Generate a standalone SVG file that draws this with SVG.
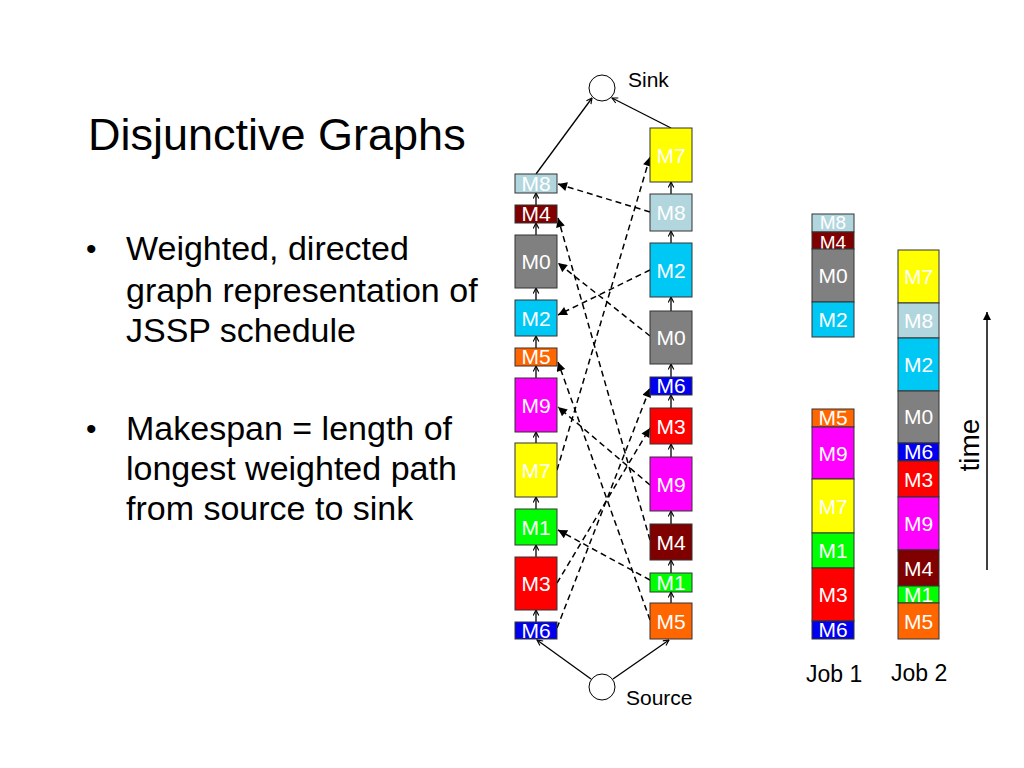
<svg xmlns="http://www.w3.org/2000/svg" width="1024" height="768" viewBox="0 0 1024 768">
<style>
text{font-family:"Liberation Sans",Arial,sans-serif}
.t{fill:#000}
.lbl{fill:#fff;font-size:21px;text-anchor:middle}
.sm{font-size:19px}
.box{stroke:#333;stroke-width:1}
.m0{fill:#808080}.m1{fill:#00ff00}.m2{fill:#00c8f5}.m3{fill:#ff0000}.m4{fill:#800000}
.m5{fill:#ff6600}.m6{fill:#0000ee}.m7{fill:#ffff00}.m8{fill:#b2d6de}.m9{fill:#ff00ff}
.sol{stroke:#000;stroke-width:1.3;fill:none;marker-end:url(#open)}
.dsh{stroke:#000;stroke-width:1.5;fill:none;stroke-dasharray:6 4;marker-end:url(#fill)}
</style>
<defs>
<marker id="open" viewBox="0 0 10 10" refX="9" refY="5" markerWidth="7" markerHeight="7" markerUnits="userSpaceOnUse" orient="auto">
<path d="M1,1 L9,5 L1,9" fill="none" stroke="#000" stroke-width="1.6"/>
</marker>
<marker id="fill" viewBox="0 0 10 10" refX="10" refY="5" markerWidth="10" markerHeight="9" markerUnits="userSpaceOnUse" orient="auto">
<path d="M0,0 L10,5 L0,10 z" fill="#000"/>
</marker>
<marker id="tarr" viewBox="0 0 10 10" refX="10" refY="5" markerWidth="10" markerHeight="8" markerUnits="userSpaceOnUse" orient="auto">
<path d="M0,0 L10,5 L0,10 z" fill="#000"/>
</marker>
</defs>
<rect width="1024" height="768" fill="#fff"/>

<g id="title">
<text x="88" y="150" font-size="45" class="t">Disjunctive Graphs</text>
</g>
<g id="bullets" font-size="34" class="t">
<text x="86" y="259" font-size="30">•</text>
<text x="126" y="260">Weighted, directed</text>
<text x="126" y="302">graph representation of</text>
<text x="126" y="342">JSSP schedule</text>
<text x="86" y="439" font-size="30">•</text>
<text x="126" y="440">Makespan = length of</text>
<text x="126" y="480">longest weighted path</text>
<text x="126" y="520">from source to sink</text>
</g>

<g id="connectors">
<line class="sol" x1="536" y1="174" x2="592" y2="98"/>
<line class="sol" x1="671" y1="128" x2="612" y2="98"/>
<line class="sol" x1="591" y1="679" x2="537" y2="640"/>
<line class="sol" x1="613" y1="679" x2="669" y2="640"/>
<line class="sol" x1="536" y1="622" x2="536" y2="610"/>
<line class="sol" x1="536" y1="557" x2="536" y2="545"/>
<line class="sol" x1="536" y1="509" x2="536" y2="497"/>
<line class="sol" x1="536" y1="443" x2="536" y2="432"/>
<line class="sol" x1="536" y1="378" x2="536" y2="366"/>
<line class="sol" x1="536" y1="348" x2="536" y2="336"/>
<line class="sol" x1="536" y1="300" x2="536" y2="288"/>
<line class="sol" x1="536" y1="235" x2="536" y2="223"/>
<line class="sol" x1="536" y1="205" x2="536" y2="193"/>
<line class="sol" x1="671" y1="603" x2="671" y2="592"/>
<line class="sol" x1="671" y1="573" x2="671" y2="560"/>
<line class="sol" x1="671" y1="524" x2="671" y2="511"/>
<line class="sol" x1="671" y1="457" x2="671" y2="444"/>
<line class="sol" x1="671" y1="408" x2="671" y2="395"/>
<line class="sol" x1="671" y1="377" x2="671" y2="364"/>
<line class="sol" x1="671" y1="311" x2="671" y2="297"/>
<line class="sol" x1="671" y1="243" x2="671" y2="231"/>
<line class="sol" x1="671" y1="194" x2="671" y2="182"/>
<line class="dsh" x1="650" y1="212" x2="558" y2="184"/>
<line class="dsh" x1="557" y1="470" x2="650" y2="157"/>
<line class="dsh" x1="650" y1="540" x2="558" y2="218"/>
<line class="dsh" x1="650" y1="336" x2="558" y2="263"/>
<line class="dsh" x1="650" y1="270" x2="558" y2="315"/>
<line class="dsh" x1="650" y1="620" x2="558" y2="362"/>
<line class="dsh" x1="650" y1="485" x2="558" y2="407"/>
<line class="dsh" x1="557" y1="628" x2="650" y2="388"/>
<line class="dsh" x1="557" y1="583" x2="650" y2="428"/>
<line class="dsh" x1="650" y1="580" x2="558" y2="530"/>
</g>

<g id="sink">
<circle cx="602" cy="88" r="13" fill="#fff" stroke="#000" stroke-width="1"/>
<text x="628" y="87" font-size="21" class="t">Sink</text>
</g>
<g id="source">
<circle cx="602" cy="687" r="13" fill="#fff" stroke="#000" stroke-width="1"/>
<text x="626" y="705" font-size="21" class="t">Source</text>
</g>

<g id="j1-M8"><rect class="box m8" x="515" y="174" width="42" height="19"/><text class="lbl" x="536" y="191">M8</text></g>
<g id="j1-M4"><rect class="box m4" x="515" y="205" width="42" height="18"/><text class="lbl" x="536" y="221">M4</text></g>
<g id="j1-M0"><rect class="box m0" x="515" y="235" width="42" height="53"/><text class="lbl" x="536" y="269">M0</text></g>
<g id="j1-M2"><rect class="box m2" x="515" y="300" width="42" height="36"/><text class="lbl" x="536" y="326">M2</text></g>
<g id="j1-M5"><rect class="box m5" x="515" y="348" width="42" height="18"/><text class="lbl" x="536" y="364">M5</text></g>
<g id="j1-M9"><rect class="box m9" x="515" y="378" width="42" height="54"/><text class="lbl" x="536" y="413">M9</text></g>
<g id="j1-M7"><rect class="box m7" x="515" y="443" width="42" height="54"/><text class="lbl" x="536" y="478">M7</text></g>
<g id="j1-M1"><rect class="box m1" x="515" y="509" width="42" height="36"/><text class="lbl" x="536" y="535">M1</text></g>
<g id="j1-M3"><rect class="box m3" x="515" y="557" width="42" height="53"/><text class="lbl" x="536" y="591">M3</text></g>
<g id="j1-M6"><rect class="box m6" x="515" y="622" width="42" height="17"/><text class="lbl" x="536" y="638">M6</text></g>

<g id="j2-M7"><rect class="box m7" x="650" y="128" width="42" height="54"/><text class="lbl" x="671" y="163">M7</text></g>
<g id="j2-M8"><rect class="box m8" x="650" y="194" width="42" height="37"/><text class="lbl" x="671" y="220">M8</text></g>
<g id="j2-M2"><rect class="box m2" x="650" y="243" width="42" height="54"/><text class="lbl" x="671" y="278">M2</text></g>
<g id="j2-M0"><rect class="box m0" x="650" y="311" width="42" height="53"/><text class="lbl" x="671" y="345">M0</text></g>
<g id="j2-M6"><rect class="box m6" x="650" y="377" width="42" height="18"/><text class="lbl" x="671" y="393">M6</text></g>
<g id="j2-M3"><rect class="box m3" x="650" y="408" width="42" height="36"/><text class="lbl" x="671" y="434">M3</text></g>
<g id="j2-M9"><rect class="box m9" x="650" y="457" width="42" height="54"/><text class="lbl" x="671" y="492">M9</text></g>
<g id="j2-M4"><rect class="box m4" x="650" y="524" width="42" height="36"/><text class="lbl" x="671" y="550">M4</text></g>
<g id="j2-M1"><rect class="box m1" x="650" y="573" width="42" height="19"/><text class="lbl" x="671" y="590">M1</text></g>
<g id="j2-M5"><rect class="box m5" x="650" y="603" width="42" height="36"/><text class="lbl" x="671" y="629">M5</text></g>

<g id="gantt-job1">
<rect class="box m8" x="812" y="214" width="42" height="18"/><text class="lbl sm" x="833" y="229">M8</text>
<rect class="box m4" x="812" y="232" width="42" height="17"/><text class="lbl sm" x="833" y="249">M4</text>
<rect class="box m0" x="812" y="249" width="42" height="53"/><text class="lbl" x="833" y="283">M0</text>
<rect class="box m2" x="812" y="302" width="42" height="35"/><text class="lbl" x="833" y="327">M2</text>
<rect class="box m5" x="812" y="409" width="42" height="18"/><text class="lbl" x="833" y="425">M5</text>
<rect class="box m9" x="812" y="427" width="42" height="52"/><text class="lbl" x="833" y="461">M9</text>
<rect class="box m7" x="812" y="479" width="42" height="54"/><text class="lbl" x="833" y="514">M7</text>
<rect class="box m1" x="812" y="533" width="42" height="35"/><text class="lbl" x="833" y="558">M1</text>
<rect class="box m3" x="812" y="568" width="42" height="53"/><text class="lbl" x="833" y="602">M3</text>
<rect class="box m6" x="812" y="621" width="42" height="18"/><text class="lbl" x="833" y="637">M6</text>
<text x="806" y="682" font-size="23" class="t">Job 1</text>
</g>
<g id="gantt-job2">
<rect class="box m7" x="898" y="250" width="41" height="53"/><text class="lbl" x="918.5" y="284">M7</text>
<rect class="box m8" x="898" y="303" width="41" height="35"/><text class="lbl" x="918.5" y="328">M8</text>
<rect class="box m2" x="898" y="338" width="41" height="53"/><text class="lbl" x="918.5" y="372">M2</text>
<rect class="box m0" x="898" y="391" width="41" height="52"/><text class="lbl" x="918.5" y="424">M0</text>
<rect class="box m6" x="898" y="443" width="41" height="18"/><text class="lbl" x="918.5" y="459">M6</text>
<rect class="box m3" x="898" y="461" width="41" height="36"/><text class="lbl" x="918.5" y="487">M3</text>
<rect class="box m9" x="898" y="497" width="41" height="53"/><text class="lbl" x="918.5" y="531">M9</text>
<rect class="box m4" x="898" y="550" width="41" height="36"/><text class="lbl" x="918.5" y="576">M4</text>
<rect class="box m1" x="898" y="586" width="41" height="17"/><text class="lbl" x="918.5" y="602">M1</text>
<rect class="box m5" x="898" y="603" width="41" height="36"/><text class="lbl" x="918.5" y="629">M5</text>
<text x="891" y="681" font-size="23" class="t">Job 2</text>
</g>

<g id="time-axis">
<line x1="987" y1="570" x2="987" y2="312" stroke="#000" stroke-width="1.5" marker-end="url(#tarr)"/>
<text x="0" y="0" font-size="28" class="t" text-anchor="middle" transform="translate(979,445) rotate(-90)">time</text>
</g>
</svg>
